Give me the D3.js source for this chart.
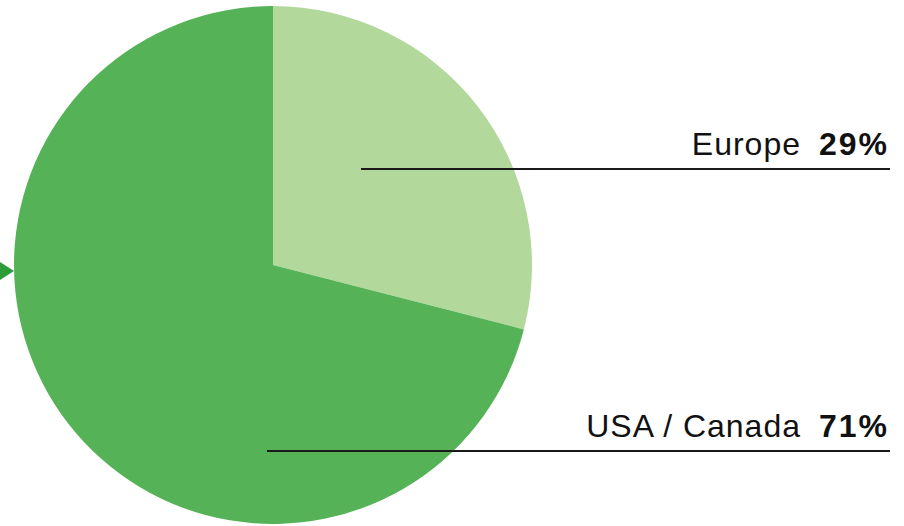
<!DOCTYPE html>
<html>
<head>
<meta charset="utf-8">
<script src="https://cdn.jsdelivr.net/npm/d3@7"></script>
<style>
  body { margin: 0; background: #fff; }
  svg { display: block; }
</style>
</head>
<body>
<div id="chart"></div>
<script>
const regions = ["Europe", "USA / Canada"];
const shares = [29, 71];
const sliceColors = ["#b2d99b", "#55b257"];

const width = 904, height = 526;
const cx = 273, cy = 265, radius = 259;

const svg = d3.select("#chart").append("svg")
  .attr("width", width)
  .attr("height", height);

const pie = d3.pie().sort(null).value(d => d.v);
const arc = d3.arc().innerRadius(0).outerRadius(radius);
const data = regions.map((r, i) => ({ name: r, v: shares[i], c: sliceColors[i] }));
const arcs = pie(data);

const g = svg.append("g").attr("transform", "translate(" + cx + "," + cy + ")");
g.selectAll("path")
  .data(arcs)
  .enter()
  .append("path")
  .attr("d", arc)
  .attr("fill", d => d.data.c);

// little arrow on the left
svg.append("path")
  .attr("d", "M0,262 L14,271 L0,280 Z")
  .attr("fill", "#2a9d3a");

// label rows: line start x, line y
const labelLines = [
  { x1: 361, y: 169 },
  { x1: 267, y: 451 }
];
const lineEnd = 890;
const font = "'Liberation Sans', Arial, sans-serif";

labelLines.forEach((l, i) => {
  svg.append("line")
    .attr("x1", l.x1).attr("x2", lineEnd)
    .attr("y1", l.y).attr("y2", l.y)
    .attr("stroke", "#1a1a1a")
    .attr("stroke-width", 2.2);

  // name
  svg.append("text")
    .attr("x", 801)
    .attr("y", l.y - 14)
    .attr("text-anchor", "end")
    .style("font-family", font)
    .style("font-size", "32px")
    .style("letter-spacing", "1px")
    .attr("fill", "#111")
    .text(regions[i]);

  // percent
  svg.append("text")
    .attr("x", 819)
    .attr("y", l.y - 14)
    .style("font-family", font)
    .style("font-size", "32px")
    .style("font-weight", "bold")
    .style("letter-spacing", "2px")
    .attr("fill", "#111")
    .text(shares[i] + "%");
});
</script>
</body>
</html>
